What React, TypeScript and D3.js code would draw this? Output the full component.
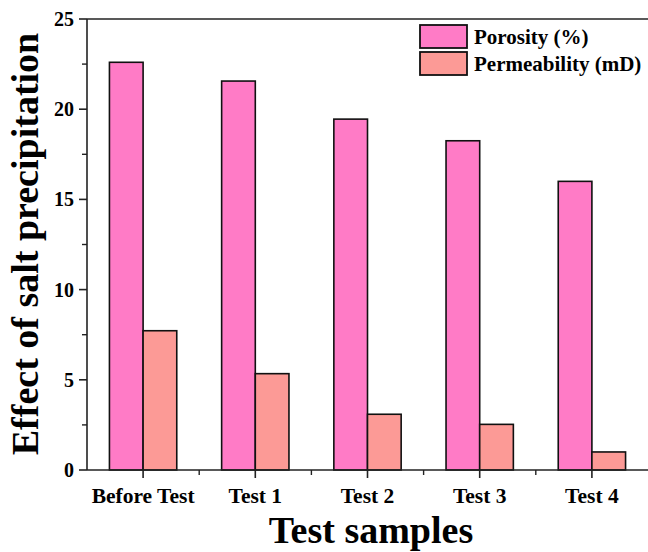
import React from "react";
import * as d3 from "d3";

const categories = ["Before Test", "Test 1", "Test 2", "Test 3", "Test 4"];
const seriesNames = ["Porosity (%)", "Permeability (mD)"];
const porosity = [22.6, 21.56, 19.45, 18.25, 16.0];
const permeability = [7.72, 5.34, 3.09, 2.53, 1.0];
const yTicks = [0, 5, 10, 15, 20, 25];
const yMinorTicks = [2.5, 7.5, 12.5, 17.5, 22.5];

const W = 648;
const H = 552;
const margin = { left: 87, right: 0, top: 19, bottom: 82 };
const colors = ["#FF7BC6", "#FC9A96"];
const font = "'Liberation Serif', 'Times New Roman', serif";

export default function App() {
  const x = d3
    .scaleBand<string>()
    .domain(categories)
    .range([margin.left, W - margin.right]);
  const y = d3
    .scaleLinear()
    .domain([0, 25])
    .range([H - margin.bottom, margin.top]);
  const bw = x.bandwidth() * 0.3;
  const series = [porosity, permeability];
  const y0 = y(0);

  return (
    <svg
      width={W}
      height={H}
      style={{ position: "absolute", left: 0, top: 0, background: "#fff" }}
      fontFamily={font}
      fontWeight="bold"
    >
      {/* bars */}
      {categories.map((c, i) => {
        const cx = (x(c) as number) + x.bandwidth() / 2;
        return series.map((s, j) => (
          <rect
            key={c + j}
            x={cx - bw + j * bw}
            y={y(s[i])}
            width={bw}
            height={y0 - y(s[i])}
            fill={colors[j]}
            stroke="#111"
            strokeWidth={1.6}
          />
        ));
      })}

      {/* frame */}
      <line x1={margin.left} x2={W} y1={margin.top} y2={margin.top} stroke="#222" strokeWidth={1.6} />
      <line x1={margin.left} x2={margin.left} y1={margin.top} y2={y0} stroke="#222" strokeWidth={1.6} />
      <line x1={margin.left} x2={W} y1={y0} y2={y0} stroke="#222" strokeWidth={1.6} />

      {/* y ticks */}
      {yTicks.map((t) => (
        <g key={t}>
          <line x1={margin.left - 8} x2={margin.left} y1={y(t)} y2={y(t)} stroke="#222" strokeWidth={1.6} />
          <text x={margin.left - 13} y={y(t)} dy="0.35em" textAnchor="end" fontSize={20}>
            {t}
          </text>
        </g>
      ))}
      {yMinorTicks.map((t) => (
        <line key={t} x1={margin.left - 5} x2={margin.left} y1={y(t)} y2={y(t)} stroke="#222" strokeWidth={1.4} />
      ))}

      {/* x ticks */}
      {categories.map((c, i) => {
        const cx = (x(c) as number) + x.bandwidth() / 2;
        const edge = (x(c) as number) + x.bandwidth();
        return (
          <g key={c}>
            <line x1={cx} x2={cx} y1={y0} y2={y0 + 8} stroke="#222" strokeWidth={1.6} />
            {i < categories.length - 1 && (
              <line x1={edge} x2={edge} y1={y0} y2={y0 + 5} stroke="#222" strokeWidth={1.4} />
            )}
            <text x={cx} y={y0 + 33} textAnchor="middle" fontSize={21.5}>
              {c}
            </text>
          </g>
        );
      })}

      {/* axis titles */}
      <text x={371} y={543} textAnchor="middle" fontSize={38}>
        Test samples
      </text>
      <text
        transform="translate(38, 244) rotate(-90)"
        textAnchor="middle"
        fontSize={38}
      >
        Effect of salt precipitation
      </text>

      {/* legend */}
      {seriesNames.map((n, j) => (
        <g key={n} transform={`translate(420, ${25 + j * 27})`}>
          <rect x={0} y={0} width={47} height={23} fill={colors[j]} stroke="#111" strokeWidth={1.8} />
          <text x={54} y={12} dy="0.35em" fontSize={21}>
            {n}
          </text>
        </g>
      ))}
    </svg>
  );
}
